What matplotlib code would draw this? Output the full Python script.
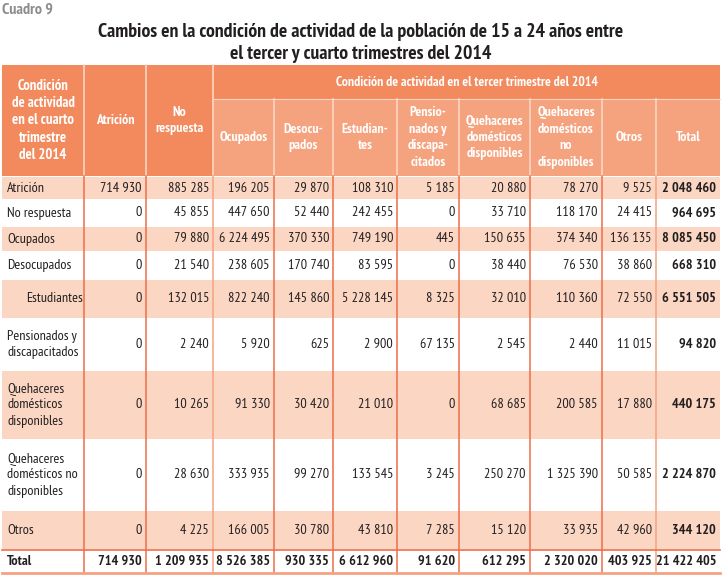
import matplotlib
matplotlib.use("Agg")
import matplotlib.pyplot as plt
from matplotlib.patches import Rectangle

plt.rcParams['font.family'] = ['PT Sans Narrow', 'Fira Sans Condensed', 'Roboto Condensed', 'DejaVu Sans']

# table data
row_labels = ["Atrición", "No respuesta", "Ocupados", "Desocupados", "Estudiantes",
              "Pensionados y\ndiscapacitados", "Quehaceres\ndomésticos\ndisponibles",
              "Quehaceres\ndomésticos no\ndisponibles", "Otros", "Total"]
col_labels = ["Atrición", "No\nrespuesta", "Ocupados", "Desocu-\npados", "Estudian-\ntes",
              "Pensio-\nnados y\ndiscapa-\ncitados", "Quehaceres\ndomésticos\ndisponibles",
              "Quehaceres\ndomésticos\nno\ndisponibles", "Otros", "Total"]
corner_label = "Condición\nde actividad\nen el cuarto\ntrimestre\ndel 2014"
group_label = "Condición de actividad en el tercer trimestre del 2014"

atricion = [714930, 885285, 196205, 29870, 108310, 5185, 20880, 78270, 9525, 2048460]
no_respuesta = [0, 45855, 447650, 52440, 242455, 0, 33710, 118170, 24415, 964695]
ocupados = [0, 79880, 6224495, 370330, 749190, 445, 150635, 374340, 136135, 8085450]
desocupados = [0, 21540, 238605, 170740, 83595, 0, 38440, 76530, 38860, 668310]
estudiantes = [0, 132015, 822240, 145860, 5228145, 8325, 32010, 110360, 72550, 6551505]
pensionados = [0, 2240, 5920, 625, 2900, 67135, 2545, 2440, 11015, 94820]
qd_disponibles = [0, 10265, 91330, 30420, 21010, 0, 68685, 200585, 17880, 440175]
qd_no_disponibles = [0, 28630, 333935, 99270, 133545, 3245, 250270, 1325390, 50585, 2224870]
otros = [0, 4225, 166005, 30780, 43810, 7285, 15120, 33935, 42960, 344120]
total = [714930, 1209935, 8526385, 930335, 6612960, 91620, 612295, 2320020, 403925, 21422405]
rows = [atricion, no_respuesta, ocupados, desocupados, estudiantes, pensionados,
        qd_disponibles, qd_no_disponibles, otros, total]

# layout in pixels
col_x = [2, 84, 146, 213, 274, 333, 397, 459, 530, 602, 656, 720]
row_y = [176, 200, 226, 252, 279, 319, 370, 440, 510, 550, 573]
head_top, head_mid = 65, 99

dark = "#F28A5E"
light = "#F5A27E"
stripe = "#FBD6C3"
line_c = "#EE6E4A"
line_l = "#F4A283"
ink = "#231F20"

fig = plt.figure(figsize=(7.22, 5.75), dpi=100)
ax = fig.add_axes([0, 0, 1, 1])
ax.set_xlim(0, 722)
ax.set_ylim(575, 0)
ax.axis("off")

def fmt(v):
    # four-per-em space as thousands separator
    return f"{v:,}".replace(",", "\u2005")

# title
ax.text(2, 10, "Cuadro 9", fontsize=11.5, fontweight="bold", color="#8C8C8C", va="center")
ax.text(361, 32, "Cambios en la condición de actividad de la población de 15 a 24 años entre",
        fontsize=14.2, fontweight="bold", ha="center", va="center", color=ink)
ax.text(361, 54, "el tercer y cuarto trimestres del 2014",
        fontsize=14.2, fontweight="bold", ha="center", va="center", color=ink)

# header cells
ax.add_patch(Rectangle((col_x[0], head_top), col_x[3] - col_x[0], row_y[0] - head_top,
                       color=dark, lw=0))
ax.add_patch(Rectangle((col_x[3], head_top), col_x[-1] - col_x[3], head_mid - head_top,
                       color=dark, lw=0))
ax.add_patch(Rectangle((col_x[3], head_mid), col_x[-1] - col_x[3], row_y[0] - head_mid,
                       color=light, lw=0))
for x in col_x[1:3]:
    ax.plot([x, x], [head_top, row_y[0]], color=stripe, lw=1.2)
for x in col_x[4:-1]:
    ax.plot([x, x], [head_mid, row_y[0]], color=stripe, lw=1.2)
ax.plot([col_x[3], col_x[3]], [head_top, row_y[0]], color=stripe, lw=1.2)
ax.plot([col_x[3], col_x[-1]], [head_mid, head_mid], color=stripe, lw=0.8)

hy = (head_top + row_y[0]) / 2
ax.text((col_x[0] + col_x[1]) / 2, hy, corner_label, color="white", fontsize=10.5,
        fontweight="bold", ha="center", va="center", linespacing=1.3)
ax.text((col_x[3] + col_x[-1]) / 2, (head_top + head_mid) / 2, group_label, color="white",
        fontsize=9.8, fontweight="bold", ha="center", va="center")
sub_y = (head_mid + row_y[0]) / 2
for j, lab in enumerate(col_labels):
    cx = (col_x[j + 1] + col_x[j + 2]) / 2
    cy = hy if j < 2 else sub_y
    ax.text(cx, cy, lab, color="white", fontsize=10, fontweight="bold",
            ha="center", va="center", linespacing=1.35)

# body rows
for i, (lab, vals) in enumerate(zip(row_labels, rows)):
    y0, y1 = row_y[i], row_y[i + 1]
    if i % 2 == 0:
        ax.add_patch(Rectangle((col_x[0], y0 + 1), col_x[-1] - col_x[0], y1 - y0 - 2,
                               color=stripe, lw=0))
    cy = (y0 + y1) / 2
    bold = lab == "Total"
    lx = 26 if lab == "Estudiantes" else 7
    ax.text(lx, cy, lab, fontsize=10.2, ha="left", va="center", color=ink,
            fontweight="bold" if bold else "normal", linespacing=1.3)
    for j, v in enumerate(vals):
        ax.text(col_x[j + 2] - 4, cy, fmt(v), fontsize=10.2, ha="right", va="center",
                color=ink, fontweight="bold" if (bold or j == len(vals) - 1) else "normal")

# body grid lines
for x in col_x[1:-1]:
    c = line_l if x in (213, 656) else line_c
    ax.plot([x, x], [row_y[0], row_y[-1]], color=c, lw=1.1)
ax.plot([col_x[0], col_x[-1]], [row_y[-2], row_y[-2]], color=line_c, lw=1.2)
ax.plot([col_x[0], col_x[-1]], [row_y[-1], row_y[-1]], color=line_l, lw=2)

fig.savefig("out.png", dpi=100)
